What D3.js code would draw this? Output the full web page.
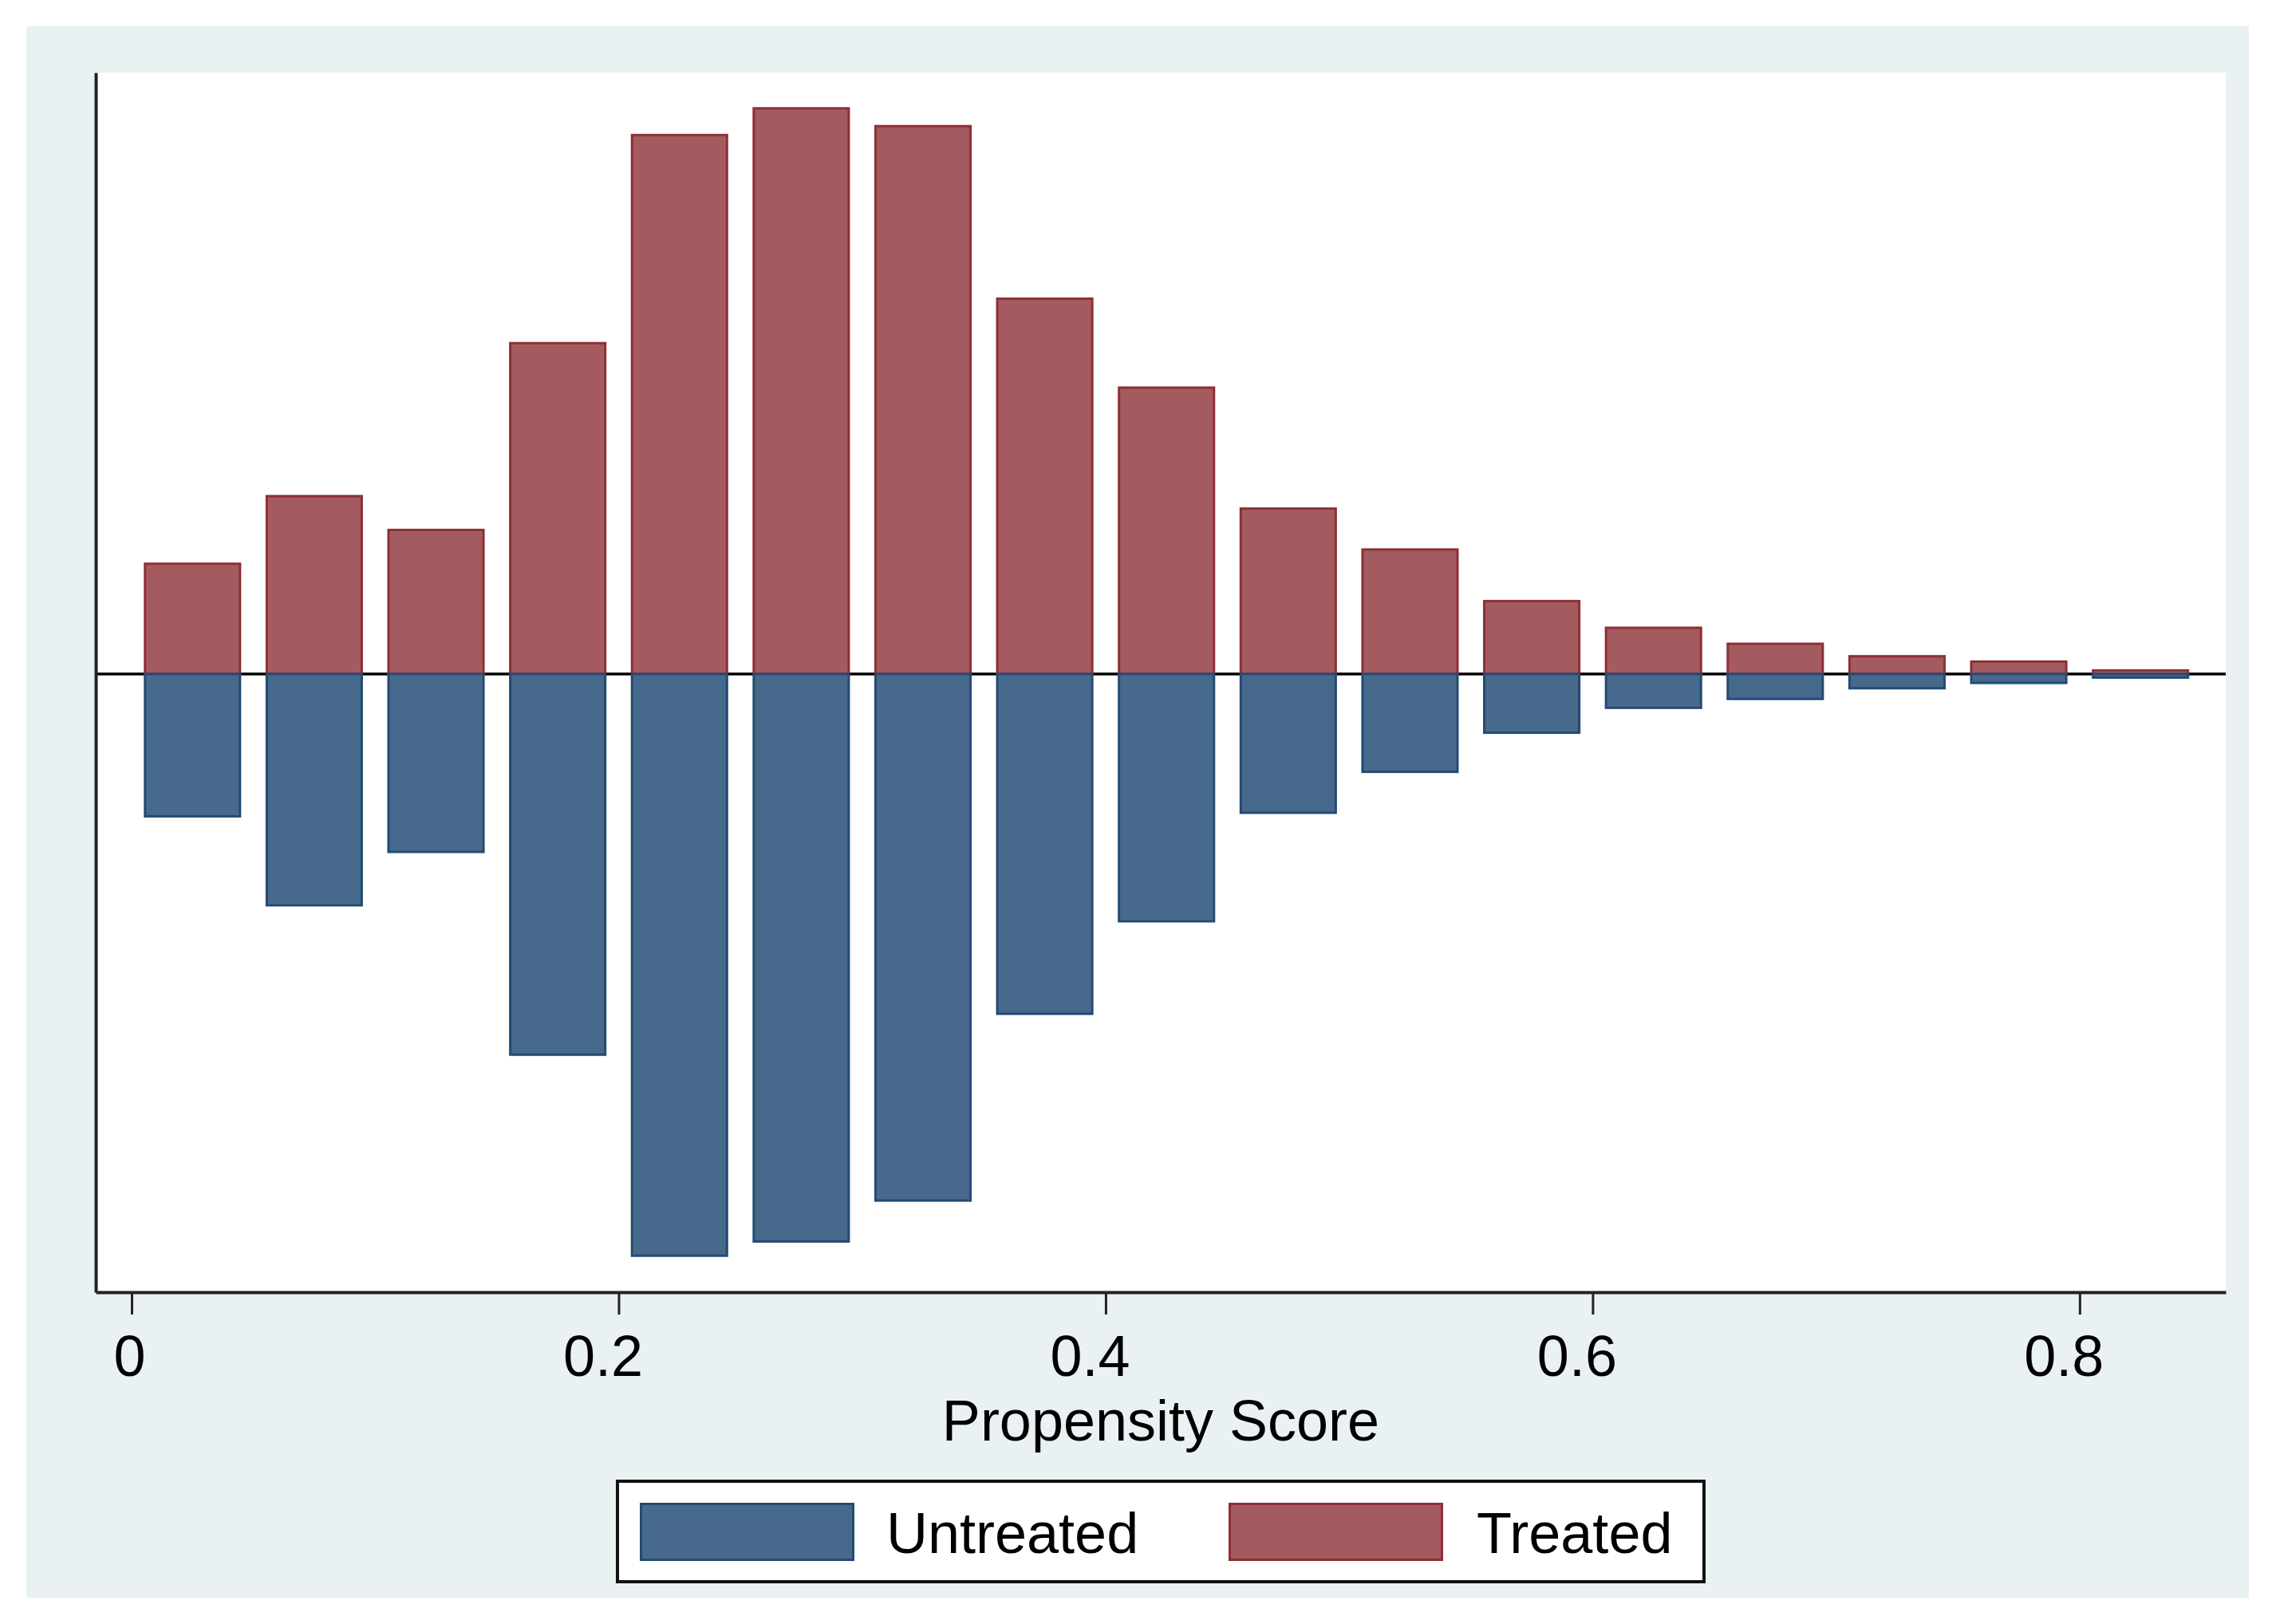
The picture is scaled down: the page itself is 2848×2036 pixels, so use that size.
<!DOCTYPE html>
<meta charset="utf-8" />
<style>
  body {
    margin: 0;
    background: #ffffff;
    font-family: "Liberation Sans", Arial, sans-serif;
  }
  .axis text {
    font-size: 72px;
    fill: #000;
  }
  .axis .domain {
    stroke: #222;
    stroke-width: 4;
  }
  .axis .tick line {
    stroke: #222;
    stroke-width: 3;
  }
</style>
<body>
  <div class="container"></div>

  <script src="https://d3js.org/d3.v7.min.js"></script>
  <script>
    // histogram bins (midpoints, width 0.05) and mirrored densities
    const binMids = [0.025, 0.075, 0.125, 0.175, 0.225, 0.275, 0.325, 0.375, 0.425,
      0.475, 0.525, 0.575, 0.625, 0.675, 0.725, 0.775, 0.825];
    const treated = [0.62, 1.00, 0.81, 1.86, 3.03, 3.18, 3.08, 2.11, 1.61,
      0.93, 0.70, 0.41, 0.26, 0.17, 0.10, 0.07, 0.02];
    const untreated = [0.80, 1.30, 1.00, 2.14, 3.27, 3.19, 2.96, 1.91, 1.39,
      0.78, 0.55, 0.33, 0.19, 0.14, 0.08, 0.05, 0.02];
    const xTicks = [0, 0.2, 0.4, 0.6, 0.8];
    const seriesNames = ["Untreated", "Treated"];

    const barWidth = 0.04;
    const colors = {
      Untreated: { fill: "#47698b", stroke: "#234b73" },
      Treated: { fill: "#a45b5f", stroke: "#8e2f38" },
    };

    const W = 2848, H = 2036;
    const plot = { left: 120, right: 2790, top: 91, bottom: 1620 };

    const svg = d3
      .select(".container")
      .append("svg")
      .attr("width", W)
      .attr("height", H);

    // graph region
    svg
      .append("rect")
      .attr("x", 33)
      .attr("y", 33)
      .attr("width", 2819 - 33)
      .attr("height", 2003 - 33)
      .attr("fill", "#eaf1f3");

    // plot region
    svg
      .append("rect")
      .attr("x", plot.left)
      .attr("y", plot.top)
      .attr("width", plot.right - plot.left)
      .attr("height", plot.bottom - plot.top)
      .attr("fill", "#ffffff");

    const x = d3.scaleLinear().domain([-0.01474, 0.86]).range([plot.left, plot.right]);
    const y = d3.scaleLinear().domain([-3.475, 3.381]).range([plot.bottom, plot.top]);

    // zero line
    svg
      .append("line")
      .attr("x1", plot.left)
      .attr("x2", plot.right)
      .attr("y1", y(0))
      .attr("y2", y(0))
      .attr("stroke", "#000")
      .attr("stroke-width", 3.5);

    function drawBars(values, name, sign) {
      svg
        .append("g")
        .selectAll("rect")
        .data(values)
        .join("rect")
        .attr("x", (d, i) => x(binMids[i] - barWidth / 2) + 1.5)
        .attr("width", (d, i) => x(binMids[i] + barWidth / 2) - x(binMids[i] - barWidth / 2) - 3)
        .attr("y", (d) => Math.min(y(0), y(sign * d)))
        .attr("height", (d) => Math.abs(y(sign * d) - y(0)))
        .attr("fill", colors[name].fill)
        .attr("stroke", colors[name].stroke)
        .attr("stroke-width", 3);
    }

    drawBars(treated, "Treated", 1);
    drawBars(untreated, "Untreated", -1);

    // axes
    svg
      .append("g")
      .attr("class", "axis")
      .attr("transform", "translate(0," + plot.bottom + ")")
      .call(
        d3.axisBottom(x).tickValues(xTicks).tickSize(28).tickSizeOuter(0).tickPadding(26)
          .tickFormat((d) => (d === 0 ? "0" : d3.format(".1f")(d)))
      )
      .selectAll(".tick text")
      .attr("dx", (d) => (d === 0 ? -3 : -20));

    svg
      .append("g")
      .attr("class", "axis")
      .attr("transform", "translate(" + plot.left + ",0)")
      .call(d3.axisLeft(y).tickValues([]).tickSizeOuter(0));

    svg
      .append("text")
      .attr("x", (plot.left + plot.right) / 2)
      .attr("y", 1806)
      .attr("text-anchor", "middle")
      .attr("font-size", 72)
      .text("Propensity Score");

    // legend
    const legend = svg.append("g");
    legend
      .append("rect")
      .attr("x", 774)
      .attr("y", 1857)
      .attr("width", 2136 - 774)
      .attr("height", 1983 - 1857)
      .attr("fill", "#fff")
      .attr("stroke", "#111")
      .attr("stroke-width", 4);

    const legendX = [802, 1540];
    const item = legend
      .selectAll("g.item")
      .data(seriesNames)
      .join("g")
      .attr("class", "item")
      .attr("transform", (d, i) => "translate(" + legendX[i] + ",0)");

    item
      .append("rect")
      .attr("x", 1.5)
      .attr("y", 1885.5)
      .attr("width", 266)
      .attr("height", 70)
      .attr("fill", (d) => colors[d].fill)
      .attr("stroke", (d) => colors[d].stroke)
      .attr("stroke-width", 3);

    item
      .append("text")
      .attr("x", (d, i) => (i === 0 ? 309 : 311))
      .attr("y", 1947)
      .attr("font-size", 72)
      .text((d) => d);
  </script>
</body>
